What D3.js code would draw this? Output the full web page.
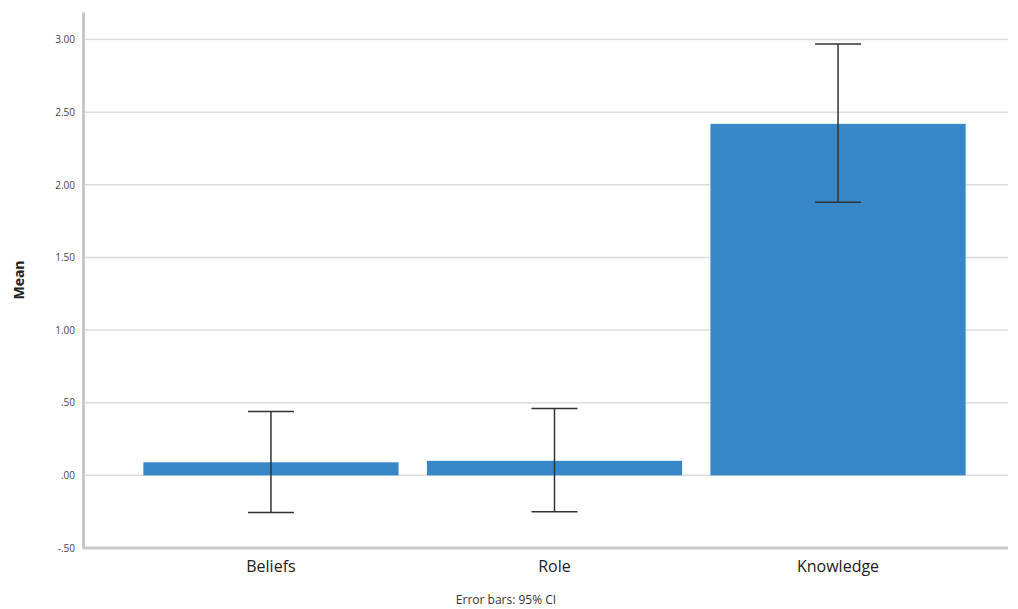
<!DOCTYPE html>
<html><head><meta charset="utf-8">
<script src="https://cdn.jsdelivr.net/npm/d3@7"></script>
<style>body{margin:0;background:#fff;}svg{display:block;font-family:"Open Sans","Noto Sans",sans-serif;}</style>
</head><body><svg id="c" width="1018" height="609"></svg>
<script>
const categories = ["Beliefs", "Role", "Knowledge"];
const means = [0.09, 0.10, 2.42];
const ciLower = [-0.255, -0.25, 1.88];
const ciUpper = [0.44, 0.46, 2.97];
const yTicks = [-0.5, 0, 0.5, 1.0, 1.5, 2.0, 2.5, 3.0];
const yTickLabels = ["-.50", ".00", ".50", "1.00", "1.50", "2.00", "2.50", "3.00"];

(function () {
const svg = d3.select("#c");
const mLeft = 83, mRight = 1008, mTop = 12, mBottom = 548;
const y = d3.scaleLinear().domain([-0.5, 3.19]).range([mBottom, mTop]);
const x = d3.scaleBand().domain(categories).range([115, 994]).paddingInner(0.1).paddingOuter(0.1);

// gridlines
svg.append("g").selectAll("line").data(yTicks.slice(1)).join("line")
  .attr("x1", mLeft).attr("x2", mRight).attr("y1", d => y(d)).attr("y2", d => y(d))
  .attr("stroke", "#dcdcdc").attr("stroke-width", 1.5);

// bars
svg.append("g").selectAll("rect").data(categories).join("rect")
  .attr("x", d => x(d)).attr("width", x.bandwidth())
  .attr("y", (d, i) => y(Math.max(0, means[i])))
  .attr("height", (d, i) => Math.abs(y(means[i]) - y(0)))
  .attr("fill", "#3686c8");

// error bars
const eb = svg.append("g").attr("stroke", "#333").attr("stroke-width", 1.5).attr("fill", "none");
categories.forEach((c, i) => {
  const cx = x(c) + x.bandwidth() / 2;
  eb.append("line").attr("x1", cx).attr("x2", cx).attr("y1", y(ciUpper[i])).attr("y2", y(ciLower[i]));
  eb.append("line").attr("x1", cx - 23).attr("x2", cx + 23).attr("y1", y(ciUpper[i])).attr("y2", y(ciUpper[i]));
  eb.append("line").attr("x1", cx - 23).attr("x2", cx + 23).attr("y1", y(ciLower[i])).attr("y2", y(ciLower[i]));
});

// y axis
const yAxis = d3.axisLeft(y).tickValues(yTicks).tickFormat((d, i) => yTickLabels[i]).tickSize(0).tickPadding(8);
const gy = svg.append("g").attr("transform", `translate(${mLeft},0)`).call(yAxis);
gy.select(".domain").attr("stroke", "#c8c8c8").attr("stroke-width", 3);
gy.selectAll("text").attr("font-size", 10).attr("fill", "#444").attr("font-family", "'Open Sans',sans-serif");

// x axis
const xAxis = d3.axisBottom(x).tickSize(0).tickPadding(13);
const gx = svg.append("g").attr("transform", `translate(0,${mBottom})`).call(xAxis);
gx.select(".domain").attr("d", `M${mLeft},0H${mRight}`).attr("stroke", "#c8c8c8").attr("stroke-width", 3);
gx.selectAll("text").attr("font-size", 16).attr("fill", "#222").attr("font-family", "'Open Sans',sans-serif");

// y label
svg.append("text").attr("transform", "translate(24,280) rotate(-90)").attr("text-anchor", "middle")
  .attr("font-size", 14).attr("font-weight", "bold").attr("fill", "#222").text("Mean");

// footnote
svg.append("text").attr("x", 506).attr("y", 604).attr("text-anchor", "middle")
  .attr("font-size", 12).attr("fill", "#333").text("Error bars: 95% CI");
})();
</script></body></html>
